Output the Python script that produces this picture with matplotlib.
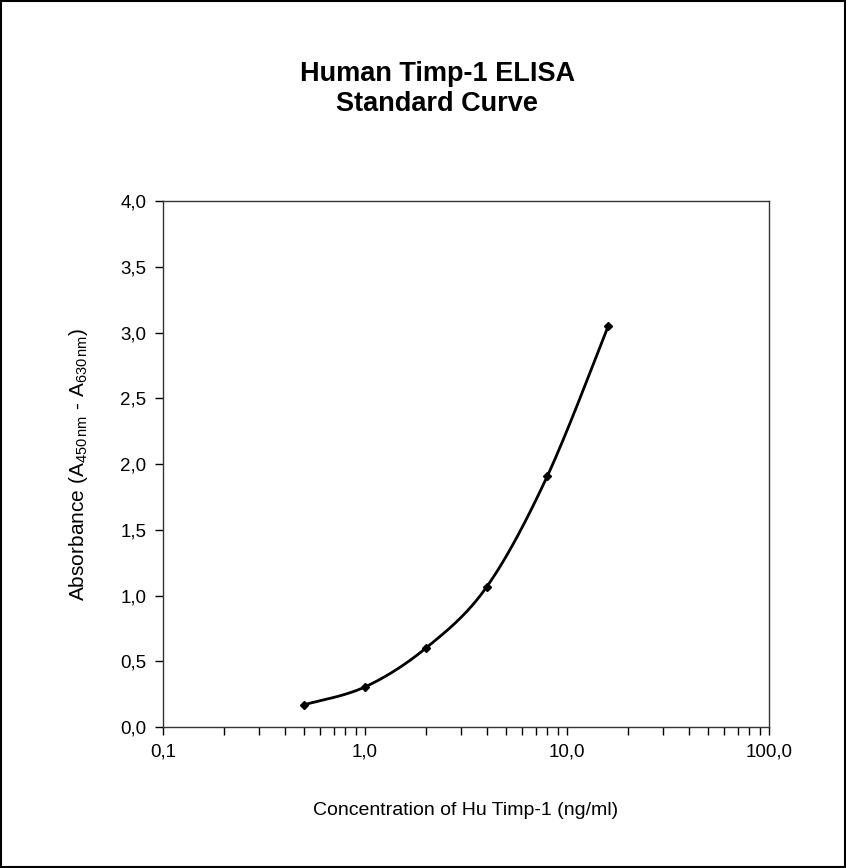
import matplotlib.pyplot as plt
from matplotlib.ticker import FixedLocator, LogLocator, FuncFormatter, NullFormatter
from matplotlib.patches import Rectangle
import numpy as np

plt.rcParams['font.family'] = ['Liberation Sans Narrow', 'Liberation Sans', 'DejaVu Sans']
plt.rcParams['mathtext.fontset'] = 'custom'
plt.rcParams['mathtext.rm'] = 'Liberation Sans'
plt.rcParams['mathtext.it'] = 'Liberation Sans'

# standard curve data
conc = [0.5, 1.0, 2.0, 4.0, 8.0, 16.0]
absorb = [0.17, 0.305, 0.60, 1.065, 1.91, 3.05]

x_ticks = [0.1, 1.0, 10.0, 100.0]
y_ticks = [0.0, 0.5, 1.0, 1.5, 2.0, 2.5, 3.0, 3.5, 4.0]


def smooth_curve(xs, ys, n=40):
    # Excel-like smoothed line (Catmull-Rom / Bezier) in log-x space
    lx = np.log10(xs)
    ys = np.array(ys, dtype=float)
    px = np.concatenate([[lx[0]], lx, [lx[-1]]])
    py = np.concatenate([[ys[0]], ys, [ys[-1]]])
    out_x, out_y = [], []
    t = np.linspace(0, 1, n)
    for i in range(1, len(px) - 2):
        p0 = np.array([px[i], py[i]])
        p3 = np.array([px[i + 1], py[i + 1]])
        c1 = p0 + (np.array([px[i + 1], py[i + 1]]) - np.array([px[i - 1], py[i - 1]])) / 6
        c2 = p3 - (np.array([px[i + 2], py[i + 2]]) - np.array([px[i], py[i]])) / 6
        bx = (1 - t) ** 3 * p0[0] + 3 * (1 - t) ** 2 * t * c1[0] + 3 * (1 - t) * t ** 2 * c2[0] + t ** 3 * p3[0]
        by = (1 - t) ** 3 * p0[1] + 3 * (1 - t) ** 2 * t * c1[1] + 3 * (1 - t) * t ** 2 * c2[1] + t ** 3 * p3[1]
        out_x.extend(bx)
        out_y.extend(by)
    return 10 ** np.array(out_x), np.array(out_y)


fig = plt.figure(figsize=(8.46, 8.68), dpi=100)
ax = fig.add_axes([0.1927, 0.1624, 0.7163, 0.606])

sx, sy = smooth_curve(conc, absorb)
ax.plot(sx, sy, color='black', lw=2)
ax.plot(conc, absorb, linestyle='none', marker='D', color='black', markersize=4.5)

ax.set_xscale('log')
ax.set_xlim(0.1, 100)
ax.set_ylim(0, 4)
ax.xaxis.set_major_locator(FixedLocator(x_ticks))
ax.xaxis.set_minor_locator(LogLocator(base=10, subs=np.arange(2, 10)))
ax.xaxis.set_minor_formatter(NullFormatter())
ax.xaxis.set_major_formatter(FuncFormatter(lambda v, p: ('%.1f' % v).replace('.', ',')))
ax.yaxis.set_major_locator(FixedLocator(y_ticks))
ax.yaxis.set_major_formatter(FuncFormatter(lambda v, p: ('%.1f' % v).replace('.', ',')))

ax.tick_params(axis='both', which='major', direction='out', length=6, width=1, labelsize=13.5, pad=6)
ax.tick_params(axis='x', which='minor', direction='out', length=6, width=1)
for s in ax.spines.values():
    s.set_linewidth(1)
    s.set_color('#333333')

ax.set_xlabel('Concentration of Hu Timp-1 (ng/ml)', fontsize=14, labelpad=30)
ax.set_ylabel(r'Absorbance (A$_{\mathregular{450\,nm}}$ - A$_{\mathregular{630\,nm}}$)', fontsize=15, labelpad=22)

fig.text(0.517, 0.898, 'Human Timp-1 ELISA\nStandard Curve', ha='center', va='center',
         fontsize=19.5, fontweight='bold', linespacing=1.2)

fig.patches.append(Rectangle((0.001, 0.001), 0.998, 0.998, transform=fig.transFigure,
                             fill=False, edgecolor='black', lw=1.5))

fig.savefig('out.png', dpi=100)
